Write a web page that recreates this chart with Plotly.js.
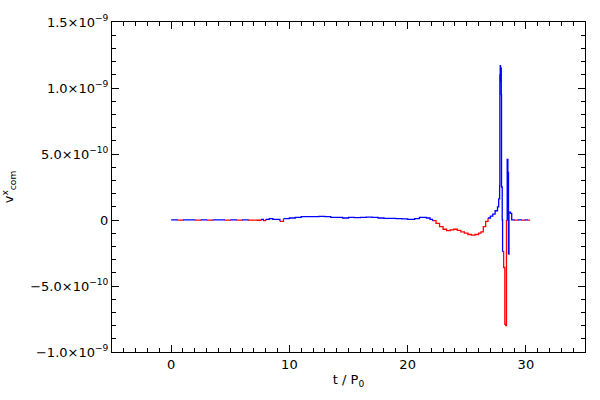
<!DOCTYPE html>
<html>
<head>
<meta charset="utf-8">
<script src="https://cdn.plot.ly/plotly-3.0.1.min.js"></script>
<style>html,body{margin:0;padding:0;background:#fff}#plot{width:600px;height:400px}</style>
</head>
<body>
<div id="plot"></div>
<script>
// time in units of P0
var tVals = [0,0.5,1.0,1.5,2.0,2.5,3.0,3.5,4.0,4.5,5.0,5.5,6.0,6.5,7.0,7.3,7.6,7.8,8.0,8.3,8.6,9.0,9.2,9.5,
  10.0,10.5,11.0,11.5,12.0,12.5,13.0,13.5,14.0,14.5,15.0,15.5,16.0,16.5,17.0,17.5,18.0,18.5,19.0,19.5,20.0,20.3,20.6,
  21.0,21.3,21.6,21.9,22.1,22.4,22.7,23.0,23.3,23.6,23.9,24.2,24.5,24.8,25.1,25.4,25.7,26.0,26.2,26.4,26.6,26.8,
  27.0,27.2,27.4,27.6,27.7,27.78,27.8,27.83,27.86,27.89,27.92,27.94,28.0,28.03,28.12,28.22,28.3,28.36,28.42,28.48,
  28.53,28.58,28.7,28.8,29.0,29.3,29.6,29.9,30.1,30.3];
// v^x_com values
var vVals = [0.01e-10,-0.01e-10,0.01e-10,0.01e-10,-0.01e-10,0.01e-10,-0.01e-10,0.01e-10,0.01e-10,-0.01e-10,0.01e-10,-0.01e-10,0.01e-10,-0.01e-10,-0.01e-10,-0.02e-10,0.05e-10,-0.05e-10,0.05e-10,0.1e-10,0.05e-10,0.05e-10,-0.1e-10,0.1e-10,
  0.15e-10,0.2e-10,0.25e-10,0.25e-10,0.25e-10,0.27e-10,0.25e-10,0.2e-10,0.2e-10,0.15e-10,0.2e-10,0.18e-10,0.2e-10,0.22e-10,0.2e-10,0.15e-10,0.12e-10,0.12e-10,0.1e-10,0.08e-10,0.05e-10,0.04e-10,0.1e-10,
  0.2e-10,0.2e-10,0.15e-10,0.05e-10,-0.05e-10,-0.25e-10,-0.5e-10,-0.7e-10,-0.8e-10,-0.75e-10,-0.7e-10,-0.78e-10,-0.9e-10,-1.0e-10,-1.1e-10,-1.15e-10,-1.1e-10,-1.0e-10,-0.9e-10,-0.5e-10,-0.1e-10,0.15e-10,
  0.3e-10,0.45e-10,0.7e-10,1.0e-10,1.6e-10,2.6e-10,11.0e-10,11.7e-10,10.5e-10,11.5e-10,9.5e-10,2.5e-10,0,-2.4e-10,-3.6e-10,-7.9e-10,-8.0e-10,0,4.6e-10,3.6e-10,
  -2.6e-10,0.6e-10,0.5e-10,0.01e-10,-0.01e-10,0.01e-10,-0.01e-10,0.01e-10,-0.01e-10,0.01e-10];

var xTickVals = [0,10,20,30];
var xTickText = ['0','10','20','30'];
var yTickVals = [-1.0e-9,-5.0e-10,0,5.0e-10,1.0e-9,1.5e-9];
var yTickText = ['\u22121.0\u00d710<sup>\u22129</sup>','\u22125.0\u00d710<sup>\u221210</sup>','0','5.0\u00d710<sup>\u221210</sup>','1.0\u00d710<sup>\u22129</sup>','1.5\u00d710<sup>\u22129</sup>'];

// split into step segments coloured by the sign of each segment's start point
var seg = {pos: {x: [], y: [], last: -2}, neg: {x: [], y: [], last: -2}};
for (var i = 1; i < vVals.length; i++) {
  var s = vVals[i-1] >= 0 ? seg.pos : seg.neg;
  if (s.last !== i-1) {
    if (s.x.length) { s.x.push(null); s.y.push(null); }
    s.x.push(tVals[i-1]); s.y.push(vVals[i-1]);
  }
  s.x.push(tVals[i]); s.y.push(vVals[i]);
  s.last = i;
}

var font = {family: 'DejaVu Sans, sans-serif', size: 13, color: '#000'};
var traces = [
  {x: seg.neg.x, y: seg.neg.y, mode: 'lines', line: {color: '#ff0000', width: 1.3, shape: 'hv'}, connectgaps: false, hoverinfo: 'skip'},
  {x: seg.pos.x, y: seg.pos.y, mode: 'lines', line: {color: '#0000ff', width: 1.3, shape: 'hv'}, connectgaps: false, hoverinfo: 'skip'}
];
var axisCommon = {showline: true, linecolor: '#000', linewidth: 1, mirror: true, ticks: 'inside',
  ticklen: 7, tickcolor: '#000', showgrid: false, zeroline: false, tickfont: font};
var xMinor = {dtick: 1, tick0: 0, ticks: 'inside', ticklen: 4, tickcolor: '#000', showgrid: false};
var yMinor = {dtick: 1e-10, tick0: 0, ticks: 'inside', ticklen: 4, tickcolor: '#000', showgrid: false};
var layout = {
  width: 600, height: 400, showlegend: false,
  paper_bgcolor: '#fff', plot_bgcolor: '#fff',
  margin: {l: 112, r: 15, t: 22, b: 48},
  font: font,
  xaxis: Object.assign({}, axisCommon, {range: [-5, 35], tickmode: 'array', tickvals: xTickVals, ticktext: xTickText,
    minor: xMinor, title: {text: 't / P<sub>0</sub>', font: font, standoff: 4}}),
  yaxis: Object.assign({}, axisCommon, {range: [-1.0e-9, 1.5e-9], tickmode: 'array', tickvals: yTickVals, ticktext: yTickText,
    minor: yMinor, title: {text: 'v<sup>x</sup><sub>com</sub>', font: font, standoff: 14}}),
  xaxis2: {overlaying: 'x', matches: 'x', side: 'top', anchor: 'y', range: [-5, 35], tickmode: 'array', tickvals: xTickVals,
    showticklabels: false, ticks: 'inside', ticklen: 7, tickcolor: '#000', showgrid: false, zeroline: false, showline: false, minor: xMinor},
  yaxis2: {overlaying: 'y', matches: 'y', side: 'right', anchor: 'x', range: [-1.0e-9, 1.5e-9], tickmode: 'array', tickvals: yTickVals,
    showticklabels: false, ticks: 'inside', ticklen: 7, tickcolor: '#000', showgrid: false, zeroline: false, showline: false, minor: yMinor}
};
traces.push({x: [null], y: [null], xaxis: 'x2', yaxis: 'y2', mode: 'lines', hoverinfo: 'skip', showlegend: false});
Plotly.newPlot('plot', traces, layout, {staticPlot: true, displayModeBar: false});
</script>
</body>
</html>
